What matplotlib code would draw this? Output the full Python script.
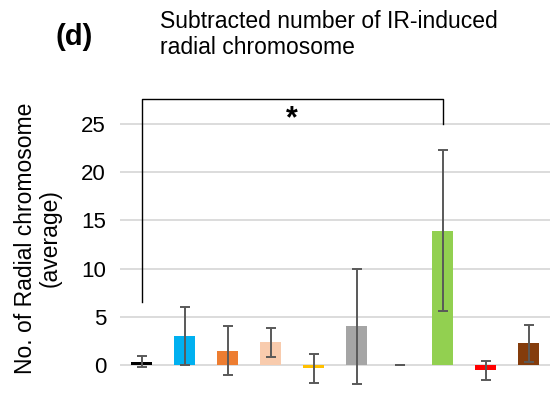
import matplotlib
matplotlib.use('Agg')
import matplotlib.pyplot as plt
import numpy as np

plt.rcParams['font.family'] = ['Liberation Sans', 'DejaVu Sans']

# ── data ──
means = [0.35, 3.0, 1.5, 2.35, -0.35, 4.0, 0.0, 13.95, -0.55, 2.25]
errs = [0.6, 3.0, 2.5, 1.5, 1.5, 6.0, 0.0, 8.3, 1.0, 1.9]
colors = ['#000000', '#00b0f0', '#ed7d31', '#f8cbad', '#ffc000',
          '#a5a5a5', '#4472c4', '#92d050', '#ff0000', '#843c0c']
yticks = [0, 5, 10, 15, 20, 25]

# significance bracket: bar index pair and heights
sig_pair = (0, 7)
sig_left_bottom, sig_top, sig_right_bottom = 6.5, 27.55, 25.0

fig = plt.figure(figsize=(5.55, 4), dpi=100)
ax = fig.add_axes([120 / 555, 0.0, 430 / 555, 0.8])

x = np.arange(len(means))
ax.bar(x, means, width=0.47, color=colors, linewidth=0, zorder=2)
ax.errorbar(x, means, yerr=errs, fmt='none', ecolor='#595959',
            elinewidth=1.4, capsize=3.7, capthick=1.4, zorder=3)

ax.set_xlim(-0.5, 9.5)
ax.set_ylim(-3.63, 29.56)
ax.set_yticks(yticks)
ax.set_xticks([])
ax.tick_params(axis='y', length=0, labelsize=16, pad=10)
ax.yaxis.grid(True, color='#d9d9d9', linewidth=1.3, zorder=0)
ax.set_axisbelow(True)
for s in ax.spines.values():
    s.set_visible(False)

# bracket with star
xl, xr = sig_pair
ax.plot([xl, xl, xr, xr], [sig_left_bottom, sig_top, sig_top, sig_right_bottom],
        color='black', linewidth=1.0, clip_on=False, zorder=4)
ax.text((xl + xr) / 2, 25.5, '*', ha='center', va='center',
        fontsize=22, fontweight='bold')

fig.text(38 / 555, 1 - 238 / 400, 'No. of Radial chromosome\n(average)',
         rotation=90, ha='center', va='center', multialignment='center',
         fontsize=16.5, linespacing=1.1)
fig.text(160 / 555, 1 - 10 / 400,
         'Subtracted number of IR-induced\nradial chromosome',
         ha='left', va='top', fontsize=16.5, linespacing=1.15)
fig.text(74 / 555, 1 - 37 / 400, '(d)', ha='center', va='center',
         fontsize=21, fontweight='bold')

plt.savefig('out.png', dpi=100, facecolor='white')
